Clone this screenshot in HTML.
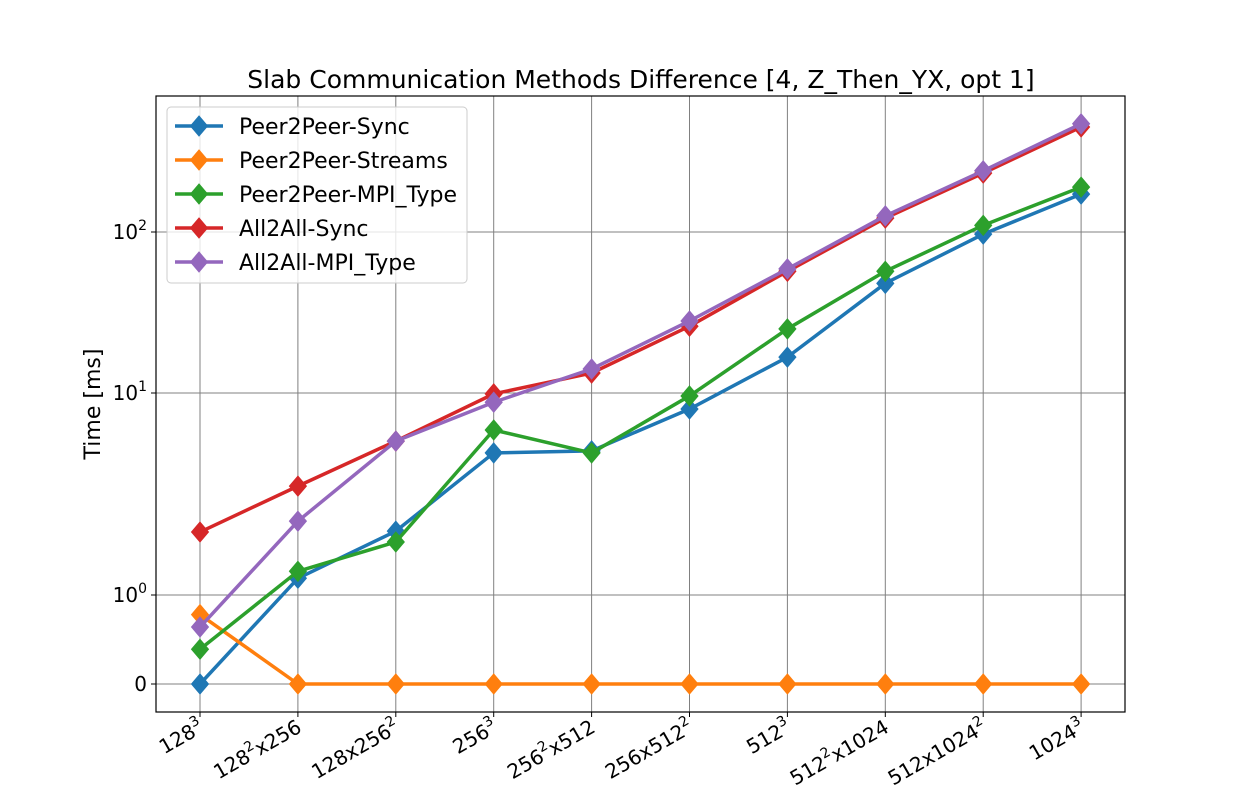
<!DOCTYPE html>
<html><head><meta charset="utf-8"><title>Slab Communication Methods Difference</title>
<style>
html,body{margin:0;padding:0;background:#fff;}
svg{display:block;font-family:"DejaVu Sans","Liberation Sans",sans-serif;}
</style></head>
<body>
<svg id="chart" width="1250" height="800" viewBox="0 0 1250 800">
<rect x="0" y="0" width="1250" height="800" fill="#fff"/>
<text x="641" y="88" font-size="25" text-anchor="middle" fill="#000">Slab Communication Methods Difference [4, Z_Then_YX, opt 1]</text>
<g id="grid"></g>
<g id="series"></g>
<rect x="156" y="96" width="969" height="616" fill="none" stroke="#000" stroke-width="1.2"/>
<g id="xticks"></g>
<g id="yticks"></g>
<text transform="translate(100,404) rotate(-90)" font-size="22" text-anchor="middle">Time [ms]</text>
<g id="legend"></g>
</svg>
<script>
const categories = [["128","3",""],["128","2","x256"],["128x256","2",""],["256","3",""],["256","2","x512"],["256x512","2",""],["512","3",""],["512","2","x1024"],["512x1024","2",""],["1024","3",""]];
const seriesNames = ["Peer2Peer-Sync","Peer2Peer-Streams","Peer2Peer-MPI_Type","All2All-Sync","All2All-MPI_Type"];
const seriesColors = ["#1f77b4","#ff7f0e","#2ca02c","#d62728","#9467bd"];
const p2pSync = [0, 1.21, 2.07, 5.05, 5.17, 8.33, 16.7, 48, 97, 172];
const p2pStreams = [0.78, 0, 0, 0, 0, 0, 0, 0, 0, 0];
const p2pMpi = [0.39, 1.31, 1.83, 6.56, 5.05, 9.67, 25, 57, 110, 190];
const a2aSync = [2.05, 3.46, 5.78, 9.9, 13.3, 26, 57, 122, 232, 449];
const a2aMpi = [0.64, 2.32, 5.78, 9.0, 14.1, 28, 59, 126, 240, 470];
const yTickValues = [0, 1, 10, 100];
const yTickExps = ["", "0", "1", "2"];

const NS = "http://www.w3.org/2000/svg";
function mk(tag, attrs, parent){const e=document.createElementNS(NS,tag);for(const k in attrs)e.setAttribute(k,attrs[k]);parent.appendChild(e);return e;}
function xPos(i){return 200 + i*97.9;}
function yPos(v){
  let d;
  if (v <= 1) d = v*89;
  else if (v <= 10) d = 89 + Math.log10(v)*202;
  else d = 291 + (Math.log10(v)-1)*161;
  return 684 - d;
}
const grid=document.getElementById('grid'), xt=document.getElementById('xticks'), yt=document.getElementById('yticks');
categories.forEach((c,i)=>{
  const x=xPos(i);
  const gl=mk('line',{x1:x,x2:x,y1:96,y2:712,stroke:'#808080','stroke-width':1},grid);
  
  
  const tk=mk('line',{x1:x,x2:x,y1:712,y2:717,stroke:'#000','stroke-width':1},xt);
  
  
  const t=mk('text',{'font-size':20,'text-anchor':'end',transform:`translate(${x+5},${731}) rotate(-30)`},xt);
  
  
  const a=document.createElementNS(NS,'tspan');a.textContent=c[0];t.appendChild(a);
  const b=document.createElementNS(NS,'tspan');b.setAttribute('dy','-9');b.setAttribute('font-size','14');b.textContent=c[1];t.appendChild(b);
  if(c[2]){const d=document.createElementNS(NS,'tspan');d.setAttribute('dy','9');d.textContent=c[2];t.appendChild(d);}
});
yTickValues.forEach((v,i)=>{
  const y=yPos(v);
  const gl=mk('line',{x1:156,x2:1125,y1:y,y2:y,stroke:'#808080','stroke-width':1},grid);
  
  
  const tk=mk('line',{x1:151,x2:156,y1:y,y2:y,stroke:'#000','stroke-width':1},yt);
  
  
  const t=mk('text',{x:147,y:y+7,'font-size':20,'text-anchor':'end'},yt);
  
  
  if(yTickExps[i]===""){t.textContent="0";}
  else{
    const a=document.createElementNS(NS,'tspan');a.textContent="10";t.appendChild(a);
    const b=document.createElementNS(NS,'tspan');b.setAttribute('dy','-9');b.setAttribute('font-size','14');b.textContent=yTickExps[i];t.appendChild(b);
  }
});
const allSeries=[p2pSync,p2pStreams,p2pMpi,a2aSync,a2aMpi];
const sg=document.getElementById('series');
function diamond(x,y,col,parent){
  const r=10;
  return mk('polygon',{points:`${x},${y-r} ${x+r*0.85},${y} ${x},${y+r} ${x-r*0.85},${y}`,fill:col,stroke:col,'stroke-width':1},parent);
}
allSeries.forEach((vals,s)=>{
  const g=mk('g',{},sg);
  
  
  const pts=vals.map((v,i)=>xPos(i)+','+yPos(v)).join(' ');
  const pl=mk('polyline',{points:pts,fill:'none',stroke:seriesColors[s],'stroke-width':3.5,'stroke-linejoin':'round'},g);
  
  
  vals.forEach((v,i)=>{
    const m=diamond(xPos(i),yPos(v),seriesColors[s],g);
    
    
  });
});
const lg=document.getElementById('legend');
const lbox=mk('rect',{x:167,y:107,width:300,height:176,rx:4,fill:'#fff','fill-opacity':0.8,stroke:'#ccc','stroke-width':1},lg);


seriesNames.forEach((n,s)=>{
  const y=126+s*34;
  const g=mk('g',{},lg);
  
  
  mk('line',{x1:175,x2:223,y1:y,y2:y,stroke:seriesColors[s],'stroke-width':3.5},g);
  diamond(199,y,seriesColors[s],g);
  const t=mk('text',{x:239,y:y+8,'font-size':22},g);
  t.textContent=n;
});
</script>
</body></html>
